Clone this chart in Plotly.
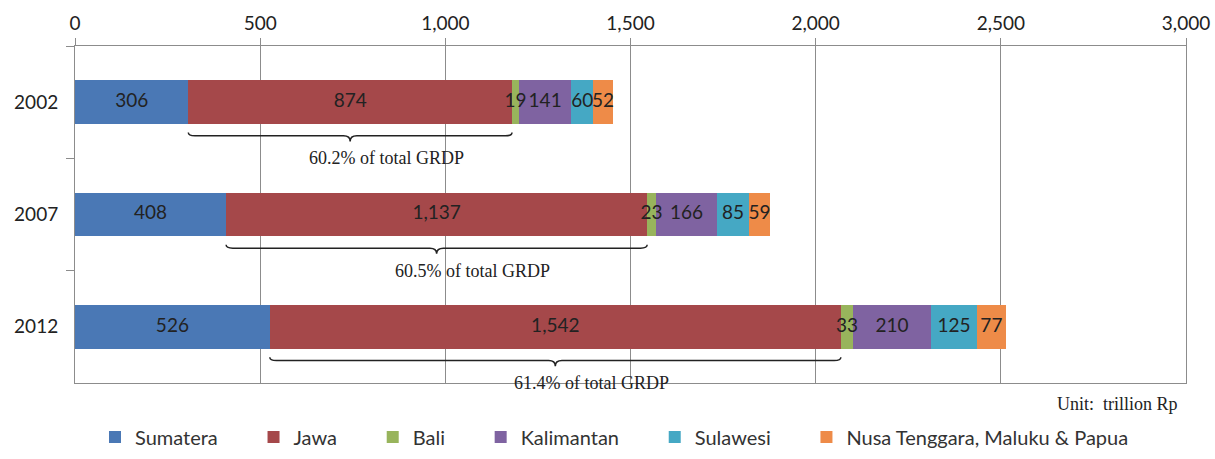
import plotly.graph_objects as go

years = ["2002", "2007", "2012"]
regions = ["Sumatera", "Jawa", "Bali", "Kalimantan", "Sulawesi", "Nusa Tenggara, Maluku & Papua"]
sumatera = [306, 408, 526]
jawa = [874, 1137, 1542]
bali = [19, 23, 33]
kalimantan = [141, 166, 210]
sulawesi = [60, 85, 125]
nusa = [52, 59, 77]
colors = ["#4A78B5", "#A5484A", "#98B45C", "#7F63A1", "#45A8C4", "#EE8B48"]

series = [sumatera, jawa, bali, kalimantan, sulawesi, nusa]

fig = go.Figure()
n = len(regions)
for k, (name, vals, col) in enumerate(zip(regions, series, colors)):
    pad = "\u00a0" * 6 if k < n - 1 else ""
    fig.add_trace(go.Bar(
        y=years, x=vals, orientation="h", name=name + pad,
        marker=dict(color=col, line=dict(width=0)),
        hoverinfo="x+name",
    ))

# value labels drawn on top of all bars, centred in each segment
base = [0, 0, 0]
lab_x, lab_y, lab_t = [], [], []
for vals in series:
    for i, v in enumerate(vals):
        lab_x.append(base[i] + v / 2)
        lab_y.append(years[i])
        lab_t.append(f"{v:,}")
        base[i] += v
fig.add_trace(go.Scatter(
    x=lab_x, y=lab_y, text=lab_t, mode="text", showlegend=False,
    textfont=dict(family="Lato", size=19, color="#222222"),
    textposition="middle center", hoverinfo="skip", cliponaxis=False,
))

totals = [sum(v) for v in zip(*series)]
shapes = []
annotations = []
up = 0.03
down = 0.05
yoff = 0.30
rx = 18
for i, (s, j, t) in enumerate(zip(sumatera, jawa, totals)):
    x0 = s
    x1 = s + j
    xm = s + j / 2
    yl = i + yoff
    path = (f"M{x0},{yl - up} Q{x0},{yl} {x0 + rx},{yl} "
            f"L{xm - rx},{yl} Q{xm},{yl} {xm},{yl + down} "
            f"Q{xm},{yl} {xm + rx},{yl} L{x1 - rx},{yl} Q{x1},{yl} {x1},{yl - up}")
    shapes.append(dict(type="path", path=path, xref="x", yref="y",
                       line=dict(color="#222222", width=1.5)))
    pct = round(j / t * 100, 1)
    annotations.append(dict(x=xm, y=i + 0.5, xref="x", yref="y", xshift=36,
                            text=f"{pct}% of total GRDP", showarrow=False,
                            font=dict(family="Liberation Serif", size=18, color="#222222"),
                            xanchor="center", yanchor="middle"))

annotations.append(dict(x=0.9946, y=-0.062, xref="paper", yref="paper",
                        text="Unit:  trillion Rp", showarrow=False,
                        font=dict(family="Liberation Serif", size=18, color="#222222"),
                        xanchor="right", yanchor="middle"))

fig.update_layout(
    width=1215, height=459,
    margin=dict(l=75, r=29, t=46, b=76, autoexpand=False),
    paper_bgcolor="white", plot_bgcolor="white",
    barmode="stack", bargap=0.61,
    shapes=shapes, annotations=annotations,
    showlegend=True,
    legend=dict(orientation="h", x=0.018, y=-0.16, xanchor="left", yanchor="middle",
                font=dict(family="Lato", size=20, color="#333333"),
                traceorder="normal", bgcolor="rgba(0,0,0,0)"),
    font=dict(family="Lato", size=19, color="#222222"),
)
fig.update_xaxes(range=[0, 3000], dtick=500, tickformat=",", side="top",
                 showgrid=True, gridcolor="#8c8c8c", gridwidth=1, zeroline=False,
                 showline=True, linecolor="#8c8c8c", linewidth=1, mirror=True,
                 ticks="outside", ticklen=7, tickcolor="#8c8c8c",
                 tickfont=dict(family="Lato", size=19, color="#222222"))
fig.update_yaxes(type="category", categoryorder="array", categoryarray=years,
                 range=[2.5, -0.5], showgrid=False, zeroline=False,
                 showline=True, linecolor="#8c8c8c", linewidth=1, mirror=True,
                 ticks="outside", tickson="boundaries", ticklen=8, tickcolor="#8c8c8c",
                 ticklabelstandoff=12,
                 tickfont=dict(family="Lato", size=19, color="#222222"))

fig.write_html("out.html")
